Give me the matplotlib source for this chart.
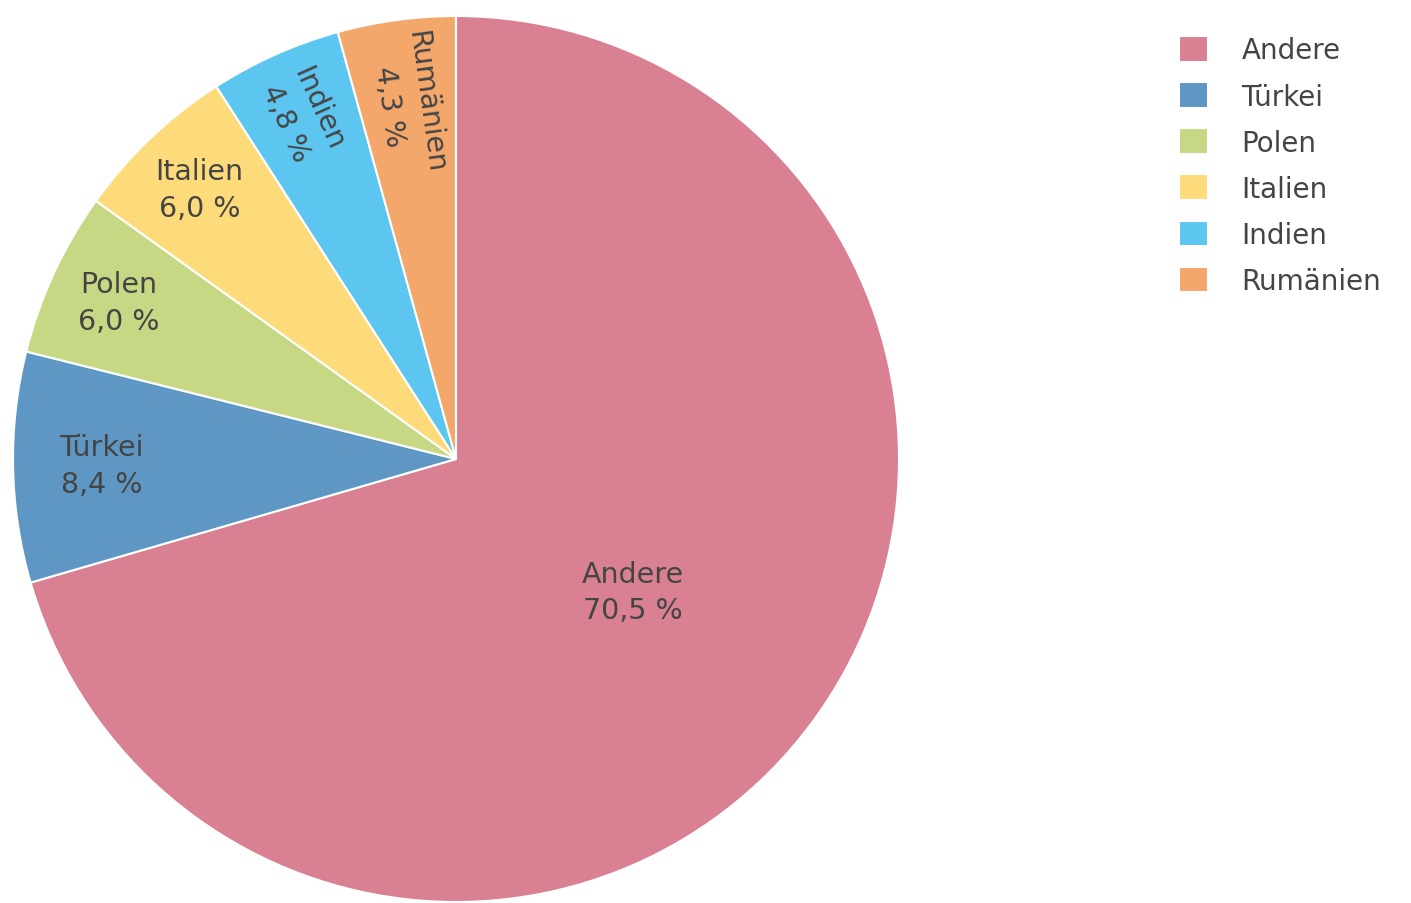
import numpy as np
import matplotlib
matplotlib.use("Agg")
import matplotlib.pyplot as plt

labels = ["Andere", "Türkei", "Polen", "Italien", "Indien", "Rumänien"]
values = [70.5, 8.4, 6.0, 6.0, 4.8, 4.3]
colors = ["#d98092", "#5f97c4", "#c6d883", "#fedb7a", "#5cc5f0", "#f4a76b"]
label_radius = [0.5, 0.8, 0.84, 0.84, 0.85, 0.81]
radial_text = [False, False, False, False, True, True]

plt.rcParams['font.family'] = ['DejaVu Sans']
txt_color = "#444444"

W, H = 1411, 904
fig = plt.figure(figsize=(W / 100, H / 100), dpi=100)
cx, cy, r = 456, 460, 443
ax = fig.add_axes([(cx - r) / W, (H - cy - r) / H, 2 * r / W, 2 * r / H])

wedges, _ = ax.pie(values, colors=colors, startangle=90, counterclock=False,
                   radius=1.0,
                   wedgeprops=dict(edgecolor="white", linewidth=1.5))
ax.set_xlim(-1, 1)
ax.set_ylim(-1, 1)
ax.set_aspect("equal")
ax.axis("off")

total = sum(values)
cum = 0.0
for lab, v, rr, rad in zip(labels, values, label_radius, radial_text):
    mid = cum + v / 2
    cum += v
    ang = 90 - mid / total * 360
    a = np.deg2rad(ang)
    x, y = rr * np.cos(a), rr * np.sin(a)
    pct = f"{v:.1f}".replace(".", ",") + " %"
    rot = ang - 180 if rad else 0
    ax.text(x, y, f"{lab}\n{pct}", ha="center", va="center", fontsize=20.5,
            color=txt_color, rotation=rot, rotation_mode="anchor",
            linespacing=1.4)

leg = fig.legend(wedges, labels, loc="upper left",
                 bbox_to_anchor=(1154 / W, 1 - 12 / H), frameon=False,
                 fontsize=20, handlelength=1.05, handleheight=1.05,
                 handletextpad=1.2, labelspacing=0.64)
for t in leg.get_texts():
    t.set_color(txt_color)

fig.savefig("out.png", dpi=100)
